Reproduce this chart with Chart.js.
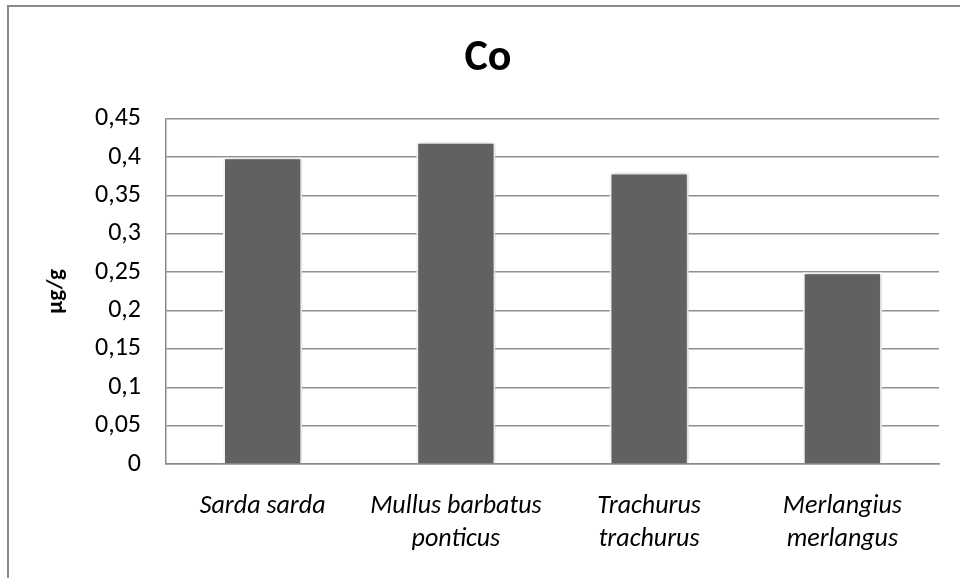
<!DOCTYPE html>
<html>
<head>
<meta charset="utf-8">
<script src="https://cdn.jsdelivr.net/npm/chart.js@4.4.0/dist/chart.umd.min.js"></script>
<style>
  html, body { margin: 0; padding: 0; background: #fff; }
  #wrap { width: 960px; height: 578px; position: relative; }
</style>
</head>
<body>
<div id="wrap"><canvas id="coChart" width="960" height="578"></canvas></div>
<script>
const species = [
  ['Sarda sarda'],
  ['Mullus barbatus', 'ponticus'],
  ['Trachurus', 'trachurus'],
  ['Merlangius', 'merlangus']
];
const coValues = [0.40, 0.42, 0.38, 0.25];
const yMin = 0;
const yMax = 0.45;
const yStep = 0.05;

const fontFamily = 'Carlito, Lato, "Open Sans", sans-serif';

// outer frame + soft shadow behind the bars
const framePlugin = {
  id: 'frame',
  beforeDraw(chart) {
    const ctx = chart.ctx;
    ctx.save();
    ctx.strokeStyle = '#8a8a8a';
    ctx.lineWidth = 2;
    ctx.beginPath();
    ctx.moveTo(8, chart.height);
    ctx.lineTo(8, 6);
    ctx.lineTo(chart.width, 6);
    ctx.stroke();
    ctx.restore();
  },
  beforeDatasetsDraw(chart) {
    const ctx = chart.ctx;
    ctx.save();
    ctx.shadowColor = 'rgba(0,0,0,0.28)';
    ctx.shadowBlur = 5;
    ctx.shadowOffsetX = 1;
  },
  afterDatasetsDraw(chart) {
    chart.ctx.restore();
  }
};

let chart;

function createChart() {
  const ctx = document.getElementById('coChart').getContext('2d');
  chart = new Chart(ctx, {
    type: 'bar',
    data: {
      labels: species,
      datasets: [{
        label: 'Co',
        data: coValues,
        backgroundColor: '#616161',
        borderColor: '#ffffff',
        borderWidth: 2,
        borderSkipped: 'start',
        barPercentage: 0.41,
        categoryPercentage: 1
      }]
    },
    options: {
      responsive: false,
      animation: false,
      layout: { padding: { left: 16, right: 0, top: 0, bottom: 0 } },
      plugins: {
        legend: { display: false },
        tooltip: { enabled: false },
        title: {
          display: true,
          text: 'Co',
          color: '#000',
          font: { family: fontFamily, size: 44, weight: 'bold', lineHeight: 1.2 },
          padding: { top: 33, bottom: 33 }
        }
      },
      scales: {
        x: {
          grid: { display: false, drawTicks: false },
          border: { display: true, color: '#8a8a8a', width: 1.5 },
          ticks: {
            color: '#000',
            padding: 26,
            maxRotation: 0,
            autoSkip: false,
            font: { family: fontFamily, size: 26, style: 'italic', lineHeight: 1.27 }
          },
          afterFit(scale) { scale.height = 114; }
        },
        y: {
          min: yMin,
          max: yMax,
          grid: { color: '#8f8f8f', lineWidth: 1.5, drawTicks: false },
          border: { display: true, color: '#8a8a8a', width: 1.5 },
          ticks: {
            stepSize: yStep,
            color: '#000',
            padding: 25,
            font: { family: fontFamily, size: 26 },
            callback: v => String(+v.toFixed(2)).replace('.', ',')
          },
          title: {
            display: true,
            text: 'µg/g',
            color: '#000',
            font: { family: fontFamily, size: 23, weight: 'bold' },
            padding: { top: 26, bottom: 0 }
          },
          afterFit(scale) { scale.width = 150; }
        },
        // empty spacer on the right so the plot stops short of the frame
        yRight: {
          position: 'right',
          display: true,
          grid: { display: false, drawTicks: false },
          border: { display: false },
          ticks: { display: false },
          afterFit(scale) { scale.width = 21; }
        }
      }
    },
    plugins: [framePlugin]
  });
}

createChart();
</script>
</body>
</html>
